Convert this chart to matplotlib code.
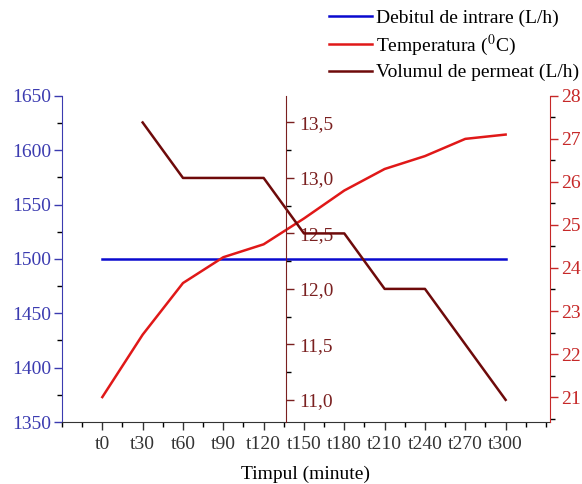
import matplotlib
matplotlib.use("Agg")
import matplotlib.pyplot as plt
from matplotlib.ticker import MultipleLocator, FuncFormatter

plt.rcParams["font.family"] = ["Liberation Serif", "DejaVu Serif"]
plt.rcParams["mathtext.fontset"] = "stix"

# data
labels = ["t0", "t30", "t60", "t90", "t120", "t150", "t180", "t210", "t240", "t270", "t300"]
debit = [1500, 1500, 1500, 1500, 1500, 1500, 1500, 1500, 1500, 1500, 1500]
temperatura = [21.0, 22.45, 23.65, 24.25, 24.55, 25.15, 25.8, 26.3, 26.6, 27.0, 27.1]
volum_labels = ["t30", "t60", "t90", "t120", "t150", "t180", "t210", "t240", "t270", "t300"]
volum = [13.5, 13.0, 13.0, 13.0, 12.5, 12.5, 12.0, 12.0, 11.5, 11.0]

c_blue = "#0a0acf"
c_blue_txt = "#3b3bb0"
c_red = "#e01818"
c_red_txt = "#c62828"
c_dark = "#6e0a0a"
c_dark_txt = "#7a2020"
fs = 14

x = list(range(len(labels)))
xv = [labels.index(l) for l in volum_labels]

fig = plt.figure(figsize=(5.82, 4.84), dpi=100)
ax = fig.add_axes([0.1065, 0.128, 0.8385, 0.674])
ax_t = ax.twinx()
ax_v = ax.twinx()

l1, = ax.plot(x, debit, color=c_blue, lw=1.8)
l2, = ax_t.plot(x, temperatura, color=c_red, lw=1.8)
l3, = ax_v.plot(xv, volum, color=c_dark, lw=1.8)

ax.set_xlim(-1, 11.1)
ax.set_ylim(1350, 1650)
ax_t.set_ylim(20.42, 28)
ax_v.set_ylim(10.8, 13.74)

ax.set_xticks(x)
ax.set_xticklabels(labels)
ax.xaxis.set_minor_locator(MultipleLocator(0.5))
ax.set_xlabel("Timpul (minute)", fontsize=fs, labelpad=9)

# left axis
ax.yaxis.set_major_locator(MultipleLocator(50))
ax.yaxis.set_minor_locator(MultipleLocator(25))
ax.spines["left"].set_color(c_blue_txt)
ax.tick_params(axis="y", colors=c_blue_txt, labelsize=fs, pad=2)
ax.tick_params(axis="x", colors="#333333", labelsize=fs, pad=4)
for s in ["top", "right"]:
    ax.spines[s].set_visible(False)
ax.spines["bottom"].set_color("#333333")

# right axis
ax_t.yaxis.set_major_locator(MultipleLocator(1))
ax_t.yaxis.set_minor_locator(MultipleLocator(0.5))
ax_t.spines["right"].set_color(c_red_txt)
ax_t.tick_params(axis="y", colors=c_red_txt, labelsize=fs, pad=2)
for s in ["top", "left", "bottom"]:
    ax_t.spines[s].set_visible(False)

# middle axis
ax_v.spines["right"].set_position(("axes", 0.46))
ax_v.spines["right"].set_color(c_dark_txt)
ax_v.yaxis.set_major_locator(MultipleLocator(0.5))
ax_v.yaxis.set_minor_locator(MultipleLocator(0.25))
ax_v.yaxis.set_major_formatter(FuncFormatter(lambda v, p: f"{v:.1f}".replace(".", ",")))
ax_v.tick_params(axis="y", colors=c_dark_txt, labelsize=fs, pad=3)
for s in ["top", "left", "bottom"]:
    ax_v.spines[s].set_visible(False)

for a in (ax, ax_t, ax_v):
    a.tick_params(which="major", length=6, width=1)
    a.tick_params(which="minor", length=3.5, width=1)

fig.legend([l1, l2, l3],
           ["Debitul de intrare (L/h)", r"Temperatura ($^0$C)", "Volumul de permeat (L/h)"],
           loc="upper left", bbox_to_anchor=(0.545, 1.005), frameon=False,
           fontsize=fs, handlelength=2.2, handletextpad=0.2, labelspacing=0.3,
           borderaxespad=0.2)

fig.savefig("out.png", dpi=100)
